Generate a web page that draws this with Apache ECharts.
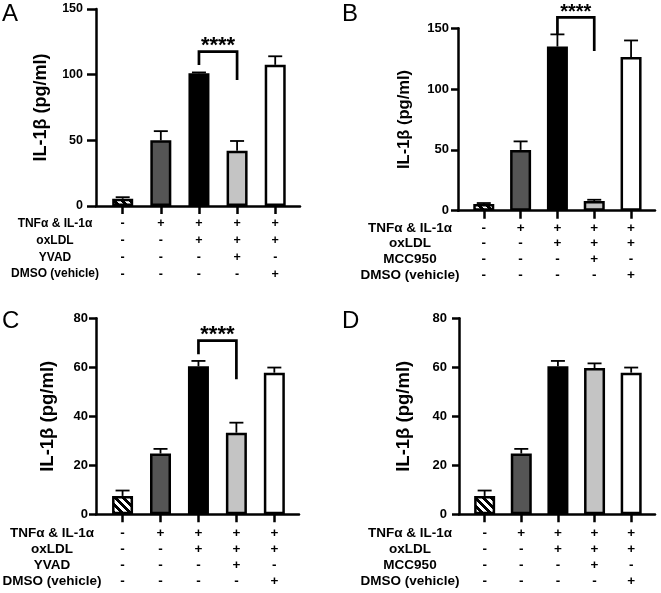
<!DOCTYPE html>
<html><head><meta charset="utf-8">
<script src="https://cdn.jsdelivr.net/npm/echarts@6/dist/echarts.min.js"></script>
<style>html,body{margin:0;padding:0;background:#fff}#c{width:661px;height:593px}</style>
</head><body><div id="c"></div>
<script>
// ---------- data ----------
const groupIndex = [0, 1, 2, 3, 4];
const conditions = [
  [0, 1, 1, 1, 1],   // TNFα & IL-1α
  [0, 0, 1, 1, 1],   // oxLDL
  [0, 0, 0, 1, 0],   // inhibitor
  [0, 0, 0, 0, 1]    // DMSO
];
const rowNamesYVAD = ['TNFα & IL-1α', 'oxLDL', 'YVAD', 'DMSO (vehicle)'];
const rowNamesMCC = ['TNFα & IL-1α', 'oxLDL', 'MCC950', 'DMSO (vehicle)'];
const yTicksAB = [0, 50, 100, 150];
const yTicksCD = [0, 20, 40, 60, 80];
const meanA = [5.5, 50, 101, 42, 107.5];
const semA  = [1.2, 7, 0.7, 7.5, 6.5];
const meanB = [5.5, 50, 135, 8, 126.5];
const semB  = [0.8, 7, 10, 1, 13.5];
const meanC = [7.5, 24.8, 60.4, 33.3, 57.8];
const semC  = [2.2, 1.9, 2.2, 4.1, 2.1];
const meanD = [7.5, 24.8, 60.4, 59.7, 57.8];
const semD  = [2.2, 1.9, 2.2, 1.9, 2.1];
// significance: [from group, to group, bracket top, left leg end, right leg end] (data units)
const sigA = [2, 3, 117.5, 107.4, 96];
const sigB = [2, 3, 159, 145, 131.3];
const sigC = [2, 3, 70.9, 65.3, 55.1];
const sigLabel = '****';
const yTitle = 'IL-1β (pg/ml)';

// ---------- styles ----------
function hatchPattern() {
  const s = 8, c = document.createElement('canvas');
  c.width = s; c.height = s;
  const g = c.getContext('2d');
  const img = g.createImageData(s, s);
  for (let y = 0; y < s; y++) for (let x = 0; x < s; x++) {
    const d = ((x - y) % s + s) % s;
    const v = d < 4 ? 0 : 255;
    const k = (y * s + x) * 4;
    img.data[k] = v; img.data[k + 1] = v; img.data[k + 2] = v; img.data[k + 3] = 255;
  }
  g.putImageData(img, 0, 0);
  return { image: c, repeat: 'repeat' };
}
const fills = [hatchPattern(), '#555555', '#000000', '#c4c4c4', '#ffffff'];
const FF = 'Liberation Sans, Arial, sans-serif';

const panels = [
  { letter: 'A', mean: meanA, sem: semA, sig: sigA, rows: rowNamesYVAD, ticks: yTicksAB,
    left: 96, width: 204, top: 9, height: 197, yTickLen: 9, yLabMargin: 13, yFont: 12.5,
    titleFont: 18, titleGap: 46, xLabMargin: 9.6, lineH: 16.7, tableFont: 12.5,
    rowX: 55, rowY: 215.7, rowFont: 12, letterXY: [2, 2], starFont: 22 },
  { letter: 'B', mean: meanB, sem: semB, sig: sigB, rows: rowNamesMCC, ticks: yTicksAB,
    left: 458, width: 197, top: 28.3, height: 182.4, yTickLen: 7, yLabMargin: 9, yFont: 13,
    titleFont: 16.5, titleGap: 45, xLabMargin: 9.5, lineH: 15.7, tableFont: 13.5,
    rowX: 410, rowY: 220.1, rowFont: 13.5, letterXY: [342, 2], starFont: 20 },
  { letter: 'C', mean: meanC, sem: semC, sig: sigC, rows: rowNamesYVAD, ticks: yTicksCD,
    left: 96, width: 203, top: 318.3, height: 196, yTickLen: 7, yLabMargin: 8, yFont: 13,
    titleFont: 18.5, titleGap: 39, xLabMargin: 11, lineH: 16.1, tableFont: 13.5,
    rowX: 52, rowY: 525.2, rowFont: 13.5, letterXY: [2, 309], starFont: 22 },
  { letter: 'D', mean: meanD, sem: semD, sig: null, rows: rowNamesMCC, ticks: yTicksCD,
    left: 459, width: 196, top: 318.3, height: 196, yTickLen: 7, yLabMargin: 12, yFont: 13,
    titleFont: 18.5, titleGap: 46, xLabMargin: 11, lineH: 16.1, tableFont: 13.5,
    rowX: 410, rowY: 525.2, rowFont: 13.5, letterXY: [342, 309], starFont: 22 }
];

const option = { animation: false, backgroundColor: '#fff', grid: [], xAxis: [], yAxis: [], series: [], graphic: [] };

panels.forEach((p, k) => {
  option.grid.push({ left: p.left, top: p.top, width: p.width, height: p.height, containLabel: false, outerBoundsMode: 'none' });
  option.xAxis.push({
    type: 'value', gridIndex: k, min: -0.7, max: 4.65,
    axisLine: { show: true, onZero: false, lineStyle: { color: '#000', width: 2.5 } },
    axisTick: { show: true, customValues: groupIndex, length: 8, lineStyle: { color: '#000', width: 2.5 } },
    axisLabel: {
      show: true, customValues: groupIndex, margin: p.xLabMargin, lineHeight: p.lineH,
      fontSize: p.tableFont, fontWeight: 'bold', fontFamily: FF, color: '#000',
      formatter: v => conditions.map(r => r[Math.round(v)] ? '+' : '-').join('\n')
    },
    splitLine: { show: false }
  });
  const tk = p.ticks;
  option.yAxis.push({
    type: 'value', gridIndex: k, min: tk[0], max: tk[tk.length - 1], interval: tk[1] - tk[0],
    name: yTitle, nameLocation: 'middle', nameRotate: 90, nameGap: p.titleGap,
    nameTextStyle: { fontSize: p.titleFont, fontWeight: 'bold', fontFamily: FF, color: '#000' },
    axisLine: { show: true, onZero: false, lineStyle: { color: '#000', width: 2.5 } },
    axisTick: { show: true, length: p.yTickLen, lineStyle: { color: '#000', width: 2.5 } },
    axisLabel: { margin: p.yLabMargin, fontSize: p.yFont, fontWeight: 'bold', fontFamily: FF, color: '#000' },
    splitLine: { show: false }
  });
  option.series.push({
    type: 'bar', xAxisIndex: k, yAxisIndex: k, barWidth: 21, z: 2,
    itemStyle: { borderColor: '#000', borderWidth: 2.5, borderRadius: 0 },
    data: p.mean.map((v, i) => ({ value: [groupIndex[i], v], itemStyle: { color: fills[i] } }))
  });
  option.series.push({
    type: 'custom', xAxisIndex: k, yAxisIndex: k, z: 3, clip: false,
    encode: { x: 0, y: 1 },
    data: p.mean.map((v, i) => [groupIndex[i], v, p.sem[i]]),
    renderItem: (params, api) => {
      const x = api.value(0), m = api.value(1), e = api.value(2);
      const a = api.coord([x, m]), b = api.coord([x, m + e]);
      const st = { stroke: '#000', lineWidth: 1.8 };
      return { type: 'group', children: [
        { type: 'line', shape: { x1: a[0], y1: a[1], x2: b[0], y2: b[1] }, style: st },
        { type: 'line', shape: { x1: b[0] - 7, y1: b[1], x2: b[0] + 7, y2: b[1] }, style: st }
      ] };
    }
  });
  if (p.sig) {
    option.series.push({
      type: 'custom', xAxisIndex: k, yAxisIndex: k, z: 4, clip: false,
      encode: { x: [0, 1], y: [2, 3, 4] },
      data: [p.sig],
      renderItem: (params, api) => {
        const x1 = api.value(0), x2 = api.value(1), t = api.value(2), l = api.value(3), r = api.value(4);
        const pL = api.coord([x1, l]), pT1 = api.coord([x1, t]), pT2 = api.coord([x2, t]), pR = api.coord([x2, r]);
        return { type: 'group', children: [
          { type: 'polyline', shape: { points: [pL, pT1, pT2, pR] }, style: { stroke: '#000', lineWidth: 2.7, fill: null } },
          { type: 'text', x: (pT1[0] + pT2[0]) / 2, y: pT1[1] + 5,
            style: { text: sigLabel, textAlign: 'center', textVerticalAlign: 'bottom', font: 'bold ' + p.starFont + 'px ' + FF, fill: '#000' } }
        ] };
      }
    });
  }
  option.graphic.push({
    type: 'text', x: p.rowX, y: p.rowY,
    style: { text: p.rows.join('\n'), textAlign: 'center', textVerticalAlign: 'top', lineHeight: p.lineH,
      font: 'bold ' + p.rowFont + 'px ' + FF, fill: '#000' }
  });
  option.graphic.push({
    type: 'text', x: p.letterXY[0], y: p.letterXY[1],
    style: { text: p.letter, textAlign: 'left', textVerticalAlign: 'top', font: '24px ' + FF, fill: '#000' }
  });
});

const chart = echarts.init(document.getElementById('c'), null, { renderer: 'canvas' });
chart.setOption(option);
</script></body></html>
